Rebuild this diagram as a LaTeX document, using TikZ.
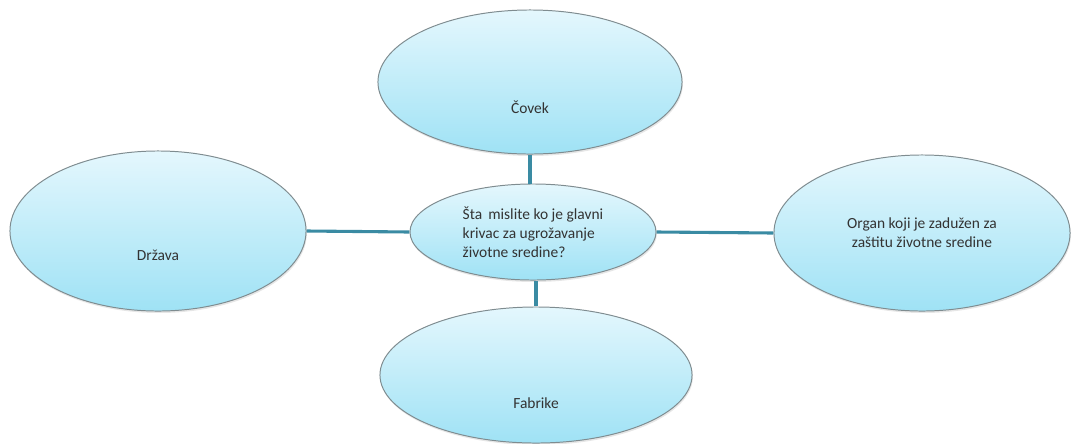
\documentclass[tikz,border=0pt]{standalone}
\usepackage{fontspec}
\setmainfont{Carlito}
\usepackage{xcolor}
\usepackage{tikz}
\usetikzlibrary{shapes.geometric,shadows}
\definecolor{bubbletop}{HTML}{E4F7FD}
\definecolor{bubblebot}{HTML}{9FE2F5}
\definecolor{bubbleline}{HTML}{7F8C90}
\definecolor{linkteal}{HTML}{3A8BA3}
\definecolor{inktext}{HTML}{333333}

\begin{document}
\begin{tikzpicture}[x=0.025cm, y=-0.025cm,
  bubble/.style={ellipse, draw=bubbleline, line width=0.7pt,
                 top color=bubbletop, bottom color=bubblebot,
                 drop shadow={opacity=0.2, shadow xshift=0.6pt, shadow yshift=-1.4pt},
                 font=\fontsize{11}{13.6}\selectfont, text=inktext, align=center,
                 inner sep=2pt},
  low/.style={text height=#1, text depth=0pt},
  link/.style={draw=linkteal, line width=2.2pt}]
  \useasboundingbox (0,0) rectangle (1073,443);
  % the question in the middle
  \node[bubble, minimum width=6.15cm, minimum height=2.4cm, align=left] (ask) at (533,232)
    {Šta\, mislite ko je glavni\\krivac za ugrožavanje\\životne sredine?};
  % the four answers
  \node[bubble, minimum width=7.6cm, minimum height=3.6cm, low=1.55cm] (covek) at (530,82) {Čovek};
  \node[bubble, minimum width=7.4cm, minimum height=4.0cm, low=1.45cm] (drzava) at (158,231) {Država};
  \node[bubble, minimum width=7.4cm, minimum height=3.9cm] (organ) at (922,233)
    {Organ koji je zadužen za\\zaštitu životne sredine};
  \node[bubble, minimum width=7.8cm, minimum height=3.4cm, low=1.66cm] (fabrike) at (536,375) {Fabrike};
  % spokes
  \draw[link] (covek.south) -- (covek.south |- ask.north);
  \draw[link] (ask.west) -- (drzava.east);
  \draw[link] (ask.east) -- (organ.west);
  \draw[link] (fabrike.north) -- (fabrike.north |- ask.south);
\end{tikzpicture}
\end{document}
